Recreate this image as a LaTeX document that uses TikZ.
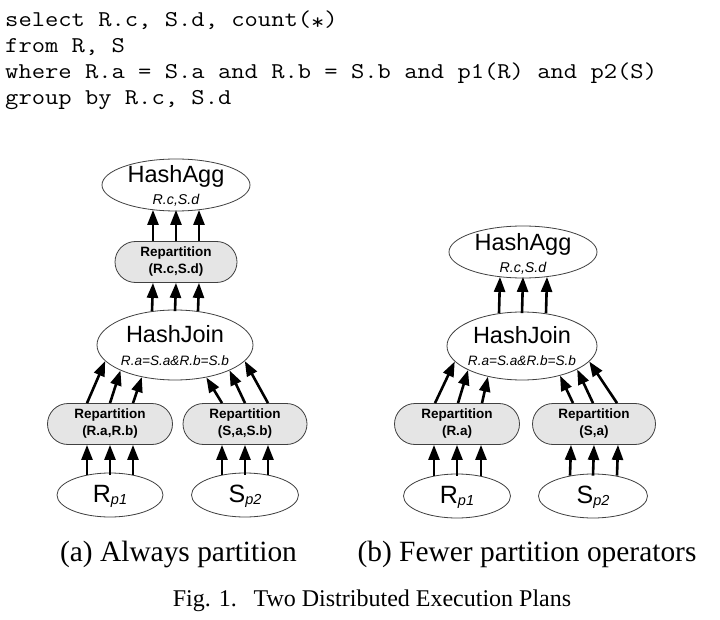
\documentclass[tikz,border=0pt]{standalone}
\usepackage{fontspec}
\setmainfont{Liberation Serif}
\newfontfamily\arialf{Liberation Sans}
\usetikzlibrary{shapes.geometric,shapes.misc,arrows.meta,calc}
\begin{document}
\begin{tikzpicture}[x=1pt,y=-1pt,
  op/.style={ellipse,draw=black!75,line width=0.8pt,fill=white,inner sep=0pt},
  rep/.style={rounded rectangle,draw=black!75,line width=0.8pt,fill=black!10,inner sep=0pt,minimum height=41pt,align=center,font=\arialf\bfseries\fontsize{13.5}{17}\selectfont},
  ttl/.style={inner sep=0pt,anchor=base,font=\arialf\fontsize{23.5}{26}\selectfont},
  subt/.style={inner sep=0pt,anchor=base,font=\arialf\itshape\fontsize{13.6}{15}\selectfont},
  subta/.style={inner sep=0pt,anchor=base,font=\arialf\itshape\fontsize{14.2}{15}\selectfont},
  leaf/.style={inner sep=0pt,anchor=base,font=\arialf\fontsize{25}{26}\selectfont},
  flow/.style={line width=2.6pt,-{Triangle[width=11pt,length=15pt]}},
  code/.style={inner sep=0pt,anchor=base west,font=\ttfamily\fontsize{22.6}{26}\selectfont},
  subcap/.style={inner sep=0pt,anchor=base,font=\fontsize{29.4}{32}\selectfont},
  figcap/.style={inner sep=0pt,anchor=base,font=\fontsize{24}{26}\selectfont}]
\useasboundingbox (0,0) rectangle (720,620);
\fill[white] (0,0) rectangle (720,620);

% SQL
\newcommand{\cw}[1]{\scalebox{1.143}[1]{#1}}
\node[code] (l1) at (5,27) {\cw{select R.c, S.d, count(\raisebox{-3pt}{*})}};
\node[code] (l2) at (5,53) {\cw{from R, S}};
\node[code] (l3) at (5,79) {\cw{where R.a = S.a and R.b = S.b and p1(R) and p2(S)}};
\node[code] (l4) at (5,105) {\cw{group by R.c, S.d}};

\newcommand{\Rp}{R\raisebox{-2pt}{\fontsize{14.5}{16}\selectfont\itshape p1}}
\newcommand{\Sp}{S\raisebox{-2pt}{\fontsize{14.5}{16}\selectfont\itshape p2}}

% ---------- (a) ----------
\node[op,minimum width=148pt,minimum height=52pt] (aagg) at (176,185) {};
\node[ttl] (aaggT) at (176,183) {HashAgg};
\node[subta] (aaggS) at (176,205) {R.c,S.d};
\node[rep,minimum width=122pt] (arep) at (176,262) {Repartition\\(R.c,S.d)};
\node[op,minimum width=156pt,minimum height=70pt] (ajoin) at (175,345) {};
\node[ttl] (ajoinT) at (175,342) {HashJoin};
\node[subt] (ajoinS) at (175,365) {R.a=S.a\&R.b=S.b};
\node[rep,minimum width=125pt] (arepL) at (110,424) {Repartition\\(R.a,R.b)};
\node[rep,minimum width=124pt] (arepR) at (245,424) {Repartition\\(S,a,S.b)};
\node[op,minimum width=106pt,minimum height=44pt] (arp) at (110,495) {};
\node[leaf] (arpT) at (110,502) {\Rp};
\node[op,minimum width=107pt,minimum height=44pt] (asp) at (245,495) {};
\node[leaf] (aspT) at (245,502) {\Sp};

\foreach \d in {-23,0,23} {
  \draw[flow] ($(arep.north)+(\d,0)$) -- ($(aagg.south)+(\d,-1.5)$);
  \draw[flow] ($(ajoin.north)+(\d,1.5)$) -- ($(arep.south)+(\d,0)$);
  \draw[flow] ($(arp.north)+(\d,2)$) -- ($(arepL.south)+(\d,0)$);
  \draw[flow] ($(asp.north)+(\d,2)$) -- ($(arepR.south)+(\d,0)$);
}
\draw[flow] ($(arepL.north)+(-23,0)$) -- (ajoin.193);
\draw[flow] ($(arepL.north)+(0,0)$) -- (ajoin.205);
\draw[flow] ($(arepL.north)+(23,0)$) -- (ajoin.224);
\draw[flow] ($(arepR.north)+(-23,0)$) -- (ajoin.314);
\draw[flow] ($(arepR.north)+(0,0)$) -- (ajoin.335);
\draw[flow] ($(arepR.north)+(23,0)$) -- (ajoin.347);

% ---------- (b) ----------
\node[op,minimum width=148pt,minimum height=52pt] (bagg) at (523,252) {};
\node[ttl] (baggT) at (523,251) {HashAgg};
\node[subta] (baggS) at (523,273) {R.c,S.d};
\node[op,minimum width=150pt,minimum height=68pt] (bjoin) at (522,346) {};
\node[ttl] (bjoinT) at (522,343) {HashJoin};
\node[subt] (bjoinS) at (522,365) {R.a=S.a\&R.b=S.b};
\node[rep,minimum width=125pt] (brepL) at (457,424) {Repartition\\(R.a)};
\node[rep,minimum width=123pt] (brepR) at (594,424) {Repartition\\(S,a)};
\node[op,minimum width=107pt,minimum height=44pt] (brp) at (457,496) {};
\node[leaf] (brpT) at (457,503) {\Rp};
\node[op,minimum width=109pt,minimum height=44pt] (bsp) at (593,496) {};
\node[leaf] (bspT) at (593,503) {\Sp};

\foreach \d in {-23,0,24} {
  \draw[flow] ($(bjoin.north)+(\d,1.5)$) -- ($(bagg.south)+(\d,-1.5)$);
  \draw[flow] ($(brp.north)+(\d,2)$) -- ($(brepL.south)+(\d,0)$);
  \draw[flow] ($(bsp.north)+(\d,2)$) -- ($(brepR.south)+(\d,0)$);
}
\draw[flow] ($(brepL.north)+(-22,0)$) -- (bjoin.193);
\draw[flow] ($(brepL.north)+(1,0)$) -- (bjoin.204);
\draw[flow] ($(brepL.north)+(25,0)$) -- (bjoin.222);
\draw[flow] ($(brepR.north)+(-21,0)$) -- (bjoin.322);
\draw[flow] ($(brepR.north)+(-1,0)$) -- (bjoin.337);
\draw[flow] ($(brepR.north)+(23,0)$) -- (bjoin.347);

% captions
\node[subcap] (capa) at (178.5,561) {(a) Always partition};
\node[subcap] (capb) at (527,561) {(b) Fewer partition operators};
\node[figcap] (fig) at (372,606) {Fig. 1.\hspace{0.7em}Two Distributed Execution Plans};
\end{tikzpicture}
\end{document}
